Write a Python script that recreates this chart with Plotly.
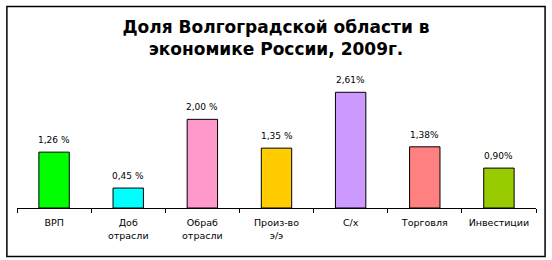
import plotly.graph_objects as go

categories = ["ВРП", "Доб<br>отрасли", "Обраб<br>отрасли", "Произ-во<br>э/э", "С/х", "Торговля", "Инвестиции"]
values = [1.26, 0.45, 2.00, 1.35, 2.61, 1.38, 0.90]
labels = ["1,26 %", "0,45 %", "2,00 %", "1,35 %", "2,61%", "1,38%", "0,90%"]
colors = ["#00FF00", "#00FFFF", "#FF99CC", "#FFCC00", "#CC99FF", "#FF8080", "#99CC00"]

fig = go.Figure()
fig.add_trace(go.Bar(
    x=categories, y=values,
    marker=dict(color=colors, line=dict(color="black", width=1)),
    width=0.41,
    hoverinfo="skip",
))

for c, v, t in zip(categories, values, labels):
    fig.add_annotation(x=c, y=v, text=t, showarrow=False, yanchor="bottom", yshift=5,
                       font=dict(family="DejaVu Sans", size=9, color="black"))

fig.add_shape(type="rect", xref="paper", yref="paper", x0=-0.0195, x1=1.0175, y0=-0.3655, y1=1.5150,
              line=dict(color="black", width=1.5), fillcolor="rgba(0,0,0,0)", layer="below")

fig.update_layout(
    width=552, height=260,
    margin=dict(l=17, r=16, t=75, b=52),
    paper_bgcolor="white", plot_bgcolor="white",
    showlegend=False,
    title=dict(text="Доля Волгоградской области в<br>экономике России, 2009г.",
               x=0.5, xanchor="center", y=0.873, yanchor="middle",
               font=dict(family="DejaVu Sans", size=17, color="black", weight="bold")),
    xaxis=dict(showline=True, linecolor="black", linewidth=1, ticks="outside", ticklen=4,
               tickcolor="black", tickson="boundaries", showgrid=False, ticklabelstandoff=6,
               tickfont=dict(family="DejaVu Sans", size=9.5, color="black"), fixedrange=True),
    yaxis=dict(range=[0, 3], visible=False, showgrid=False, fixedrange=True),
    font=dict(family="DejaVu Sans", color="black"),
)

fig.write_html("out.html")
